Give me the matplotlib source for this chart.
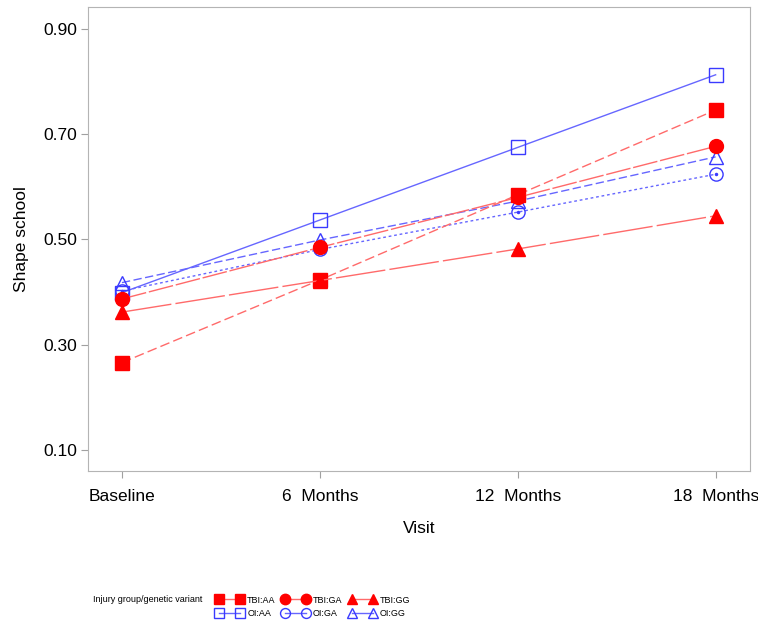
import matplotlib
matplotlib.use("Agg")
import matplotlib.pyplot as plt
from matplotlib.lines import Line2D

plt.rcParams['font.family'] = ['Liberation Sans', 'DejaVu Sans']

visits = ["Baseline", "6  Months", "12  Months", "18  Months"]
yticks = [0.10, 0.30, 0.50, 0.70, 0.90]

tbi_aa = [0.266, 0.423, 0.585, 0.746]
tbi_ga = [0.387, 0.485, 0.580, 0.677]
tbi_gg = [0.362, 0.422, 0.482, 0.545]
oi_aa = [0.399, 0.537, 0.675, 0.813]
oi_ga = [0.402, 0.481, 0.552, 0.624]
oi_gg = [0.418, 0.499, 0.573, 0.657]

red_line = '#ff6a6a'
red = '#ff0000'
blue_line = '#6666ff'
blue = '#3a3aff'

# name, values, line colour, marker, face, edge, dash, marker size
series = [
    ("TBI:AA", tbi_aa, red_line, 's', red, red, (0, (7, 3)), 10),
    ("OI:AA", oi_aa, blue_line, 's', 'none', blue, '-', 10),
    ("TBI:GA", tbi_ga, red_line, 'o', red, red, (0, (18, 2)), 10),
    ("OI:GA", oi_ga, blue_line, 'o', 'none', blue, (0, (2, 2)), 9.5),
    ("TBI:GG", tbi_gg, red_line, '^', red, red, (0, (36, 3)), 10.5),
    ("OI:GG", oi_gg, blue_line, '^', 'none', blue, (0, (6, 2.5)), 10),
]

fig = plt.figure(figsize=(7.58, 6.28), dpi=100)
ax = fig.add_axes([0.116, 0.25, 0.873, 0.739])
x = list(range(len(visits)))

handles = []
for name, vals, lc, mk, mfc, mec, ls, ms in series:
    ax.plot(x, vals, color=lc, linestyle=ls, linewidth=1.0,
            marker=mk, markersize=ms, markerfacecolor=mfc,
            markeredgecolor=mec, markeredgewidth=1.0,
            zorder=3 if mfc == 'none' else 4)
    if name == "OI:GA":
        ax.plot(x, vals, linestyle='none', marker='o', markersize=1.5,
                color=blue, zorder=3)
    # legend shows plain solid connector between the two markers
    handles.append(Line2D([], [], color=lc, linewidth=1.0, marker=mk,
                          markersize=ms, markerfacecolor=mfc,
                          markeredgecolor=mec, label=name))

ax.set_xlim(-0.172, 3.172)
ax.set_ylim(0.06, 0.942)
ax.set_xticks(x)
ax.set_xticklabels(visits, fontsize=12.5)
ax.set_yticks(yticks)
ax.set_yticklabels([f"{v:.2f}" for v in yticks], fontsize=12.5)
ax.tick_params(axis='y', direction='out', length=5, color='#a0a0a0', pad=3)
ax.tick_params(axis='x', direction='out', length=5, color='#a0a0a0', pad=8)
for sp in ax.spines.values():
    sp.set_color('#b4b4b4')
ax.set_xlabel("Visit", fontsize=12.5, labelpad=12)
ax.set_ylabel("Shape school", fontsize=12.5, labelpad=10)

fig.text(93 / 758, 1 - 599 / 628, "Injury group/genetic variant",
         fontsize=6.5, va='center', ha='left')
fig.legend(handles=handles, ncol=3, loc='center left',
           bbox_to_anchor=(216 / 758, 1 - 607 / 628), frameon=False,
           fontsize=6.5, numpoints=2, markerscale=0.75,
           handlelength=3.0, handletextpad=0.45, columnspacing=0.7,
           labelspacing=0.55, borderpad=0, borderaxespad=0)

fig.savefig("out.png", dpi=100)
